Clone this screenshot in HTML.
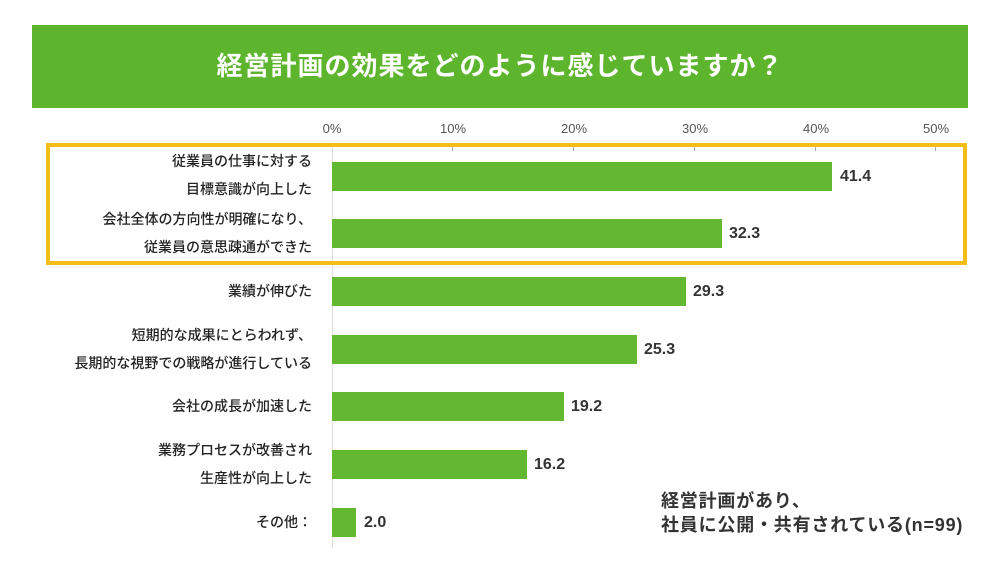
<!DOCTYPE html>
<html><head><meta charset="utf-8"><style>
body{margin:0;width:1000px;height:563px;background:#fff;position:relative;overflow:hidden;font-family:"Liberation Sans","Noto Sans CJK JP",sans-serif;color:#333}
.hd{position:absolute;left:32px;top:25px;width:936px;height:83px;background:#5db52e;color:#fff;font-weight:bold;font-size:26px;text-align:center;line-height:83px;letter-spacing:1px}
.t{position:absolute;font-size:13px;color:#555;top:121px;width:40px;text-align:center}
.lab{position:absolute;right:688px;font-size:14px;font-weight:500;color:#222;text-align:right;white-space:nowrap;line-height:28px}
.bar{position:absolute;left:332px;height:29px;background:#62b931}
.v{position:absolute;font-size:16px;font-weight:bold;color:#333;line-height:29px}
.box{position:absolute;left:46px;top:143px;width:913px;height:114px;border:4px solid #f5bd18}
</style></head><body>
<div class="hd">経営計画の効果をどのように感じていますか？</div>
<div class="t" style="left:312px">0%</div>
<div class="t" style="left:433px">10%</div>
<div class="t" style="left:554px">20%</div>
<div class="t" style="left:675px">30%</div>
<div class="t" style="left:796px">40%</div>
<div class="t" style="left:916px">50%</div>
<div style="position:absolute;left:332px;top:146px;width:604px;height:1px;background:#bbb"></div>
<div style="position:absolute;left:332px;top:146px;width:1px;height:402px;background:#ddd"></div>
<div style="position:absolute;left:452px;top:146px;width:1px;height:5px;background:#aaa"></div>
<div style="position:absolute;left:573px;top:146px;width:1px;height:5px;background:#aaa"></div>
<div style="position:absolute;left:694px;top:146px;width:1px;height:5px;background:#aaa"></div>
<div style="position:absolute;left:815px;top:146px;width:1px;height:5px;background:#aaa"></div>
<div style="position:absolute;left:935px;top:146px;width:1px;height:5px;background:#aaa"></div>
<div class="box"></div>

<div class="lab" style="top:147px">従業員の仕事に対する<br>目標意識が向上した</div>
<div class="bar" style="top:162px;width:500px"></div><div class="v" style="left:840px;top:162px">41.4</div>

<div class="lab" style="top:205px">会社全体の方向性が明確になり、<br>従業員の意思疎通ができた</div>
<div class="bar" style="top:219px;width:390px"></div><div class="v" style="left:729px;top:219px">32.3</div>

<div class="lab" style="top:277px">業績が伸びた</div>
<div class="bar" style="top:277px;width:354px"></div><div class="v" style="left:693px;top:277px">29.3</div>

<div class="lab" style="top:321px">短期的な成果にとらわれず、<br>長期的な視野での戦略が進行している</div>
<div class="bar" style="top:335px;width:305px"></div><div class="v" style="left:644px;top:335px">25.3</div>

<div class="lab" style="top:392px">会社の成長が加速した</div>
<div class="bar" style="top:392px;width:232px"></div><div class="v" style="left:571px;top:392px">19.2</div>

<div class="lab" style="top:436px">業務プロセスが改善され<br>生産性が向上した</div>
<div class="bar" style="top:450px;width:195px"></div><div class="v" style="left:534px;top:450px">16.2</div>

<div class="lab" style="top:508px">その他：</div>
<div class="bar" style="top:508px;width:24px"></div><div class="v" style="left:364px;top:508px">2.0</div>

<div style="position:absolute;left:661px;top:489px;font-size:18px;font-weight:bold;color:#333;line-height:24px;white-space:nowrap;letter-spacing:0.8px">経営計画があり、<br>社員に公開・共有されている(n=99)</div>
</body></html>
